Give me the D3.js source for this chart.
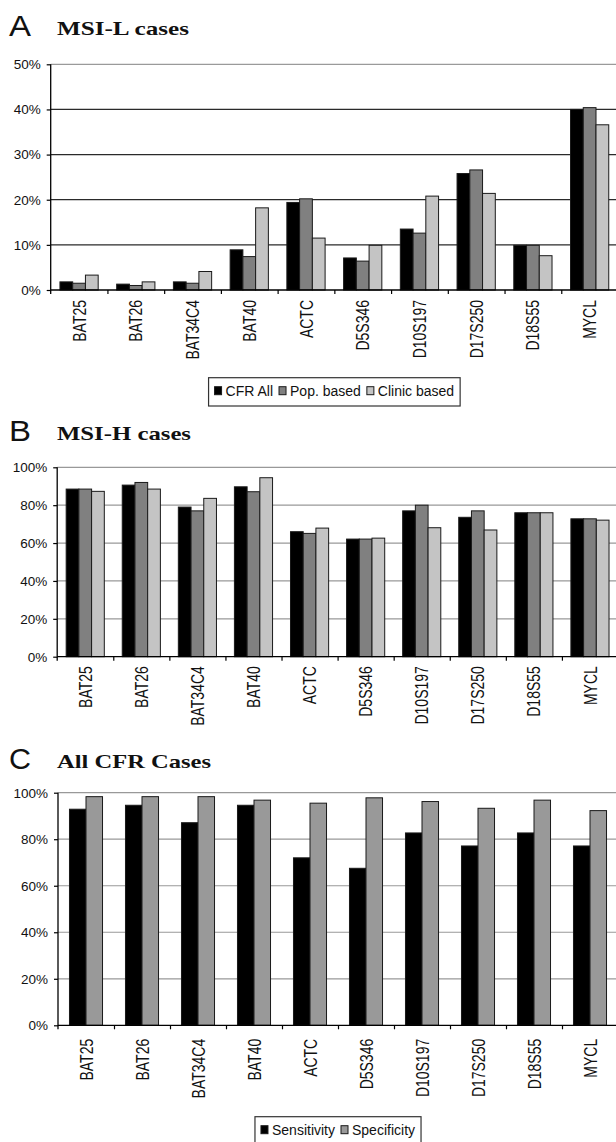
<!DOCTYPE html>
<html>
<head>
<meta charset="utf-8">
<script src="https://cdn.jsdelivr.net/npm/d3@7"></script>
<style>
body { margin: 0; background: #fff; }
svg text { font-family: "Liberation Sans", Arial, sans-serif; fill: #111; }
svg text.title { font-family: "Liberation Serif", "Times New Roman", serif; font-weight: bold; }
</style>
</head>
<body>
<svg id="chart" width="616" height="1142"></svg>
<script>
const markers = ["BAT25", "BAT26", "BAT34C4", "BAT40", "ACTC", "D5S346", "D10S197", "D17S250", "D18S55", "MYCL"];

// panel A - MSI-L cases (%)
const msiLAll = [1.8, 1.3, 1.8, 8.9, 19.4, 7.1, 13.5, 25.8, 9.9, 40.0];
const msiLPop = [1.5, 1.0, 1.5, 7.4, 20.2, 6.4, 12.6, 26.6, 9.9, 40.4];
const msiLClinic = [3.3, 1.8, 4.1, 18.2, 11.5, 9.9, 20.8, 21.4, 7.6, 36.6];

// panel B - MSI-H cases (%)
const msiHAll = [88.5, 90.6, 79.0, 89.7, 66.0, 62.1, 77.0, 73.6, 76.0, 72.8];
const msiHPop = [88.5, 92.0, 77.0, 87.1, 65.1, 62.1, 80.0, 77.0, 76.0, 72.8];
const msiHClinic = [87.3, 88.5, 83.6, 94.5, 67.9, 62.6, 68.1, 66.9, 76.0, 72.1];

// panel C - all CFR cases (%)
const sensitivity = [92.9, 94.6, 87.1, 94.6, 72.0, 67.5, 82.7, 77.1, 82.7, 77.1];
const specificity = [98.3, 98.3, 98.3, 96.8, 95.5, 97.8, 96.2, 93.3, 96.8, 92.3];

const ticksA = [0, 10, 20, 30, 40, 50];
const ticksBC = [0, 20, 40, 60, 80, 100];
const legendA = ["CFR All", "Pop. based", "Clinic based"];
const legendC = ["Sensitivity", "Specificity"];

const svg = d3.select("#chart");
const plotRight = 618;

function drawPanel(p) {
  const g = svg.append("g");

  // panel letter + title
  g.append("text")
    .attr("x", 9).attr("y", p.titleY)
    .attr("font-size", 29)
    .attr("textLength", 22).attr("lengthAdjust", "spacingAndGlyphs")
    .text(p.letter);
  g.append("text").attr("class", "title")
    .attr("x", 57).attr("y", p.titleY - 1)
    .attr("font-size", 19.5)
    .attr("textLength", p.titleW).attr("lengthAdjust", "spacingAndGlyphs")
    .text(p.title);

  const n = markers.length;
  const x = d3.scaleBand().domain(markers)
    .range([p.x0, plotRight])
    .paddingInner(p.pad).paddingOuter(p.pad / 2);
  const sub = d3.scaleBand().domain(d3.range(p.series.length)).range([0, x.bandwidth()]);
  const y = d3.scaleLinear().domain([0, p.max]).range([p.y0, p.yTop]);

  // gridlines
  g.selectAll(null).data(p.ticks.slice(1)).enter().append("line")
    .attr("x1", p.x0).attr("x2", 616)
    .attr("y1", d => y(d)).attr("y2", d => y(d))
    .attr("stroke", d => d === p.max ? p.topGrid : p.grid)
    .attr("stroke-width", 1.2);

  // bars
  p.series.forEach((vals, si) => {
    g.selectAll(null).data(vals).enter().append("rect")
      .attr("x", (d, i) => x(markers[i]) + sub(si))
      .attr("y", d => y(d))
      .attr("width", sub.bandwidth())
      .attr("height", d => p.y0 - y(d))
      .attr("fill", p.colors[si])
      .attr("stroke", "#1a1a1a").attr("stroke-width", 1);
  });

  // y axis
  const ya = g.append("g")
    .attr("transform", `translate(${p.x0},0)`)
    .call(d3.axisLeft(y).tickValues(p.ticks).tickFormat(d => d + "%").tickSize(4).tickPadding(6));
  ya.select(".domain").remove();
  ya.selectAll("text").attr("font-size", 13.5).attr("fill", "#111");
  ya.selectAll("line").attr("stroke-width", 1.2);
  g.append("line")
    .attr("x1", p.x0).attr("x2", p.x0)
    .attr("y1", p.yTop).attr("y2", p.y0 + 4)
    .attr("stroke", "#000").attr("stroke-width", 1.3);

  // x axis, ticks between categories
  const xs = d3.scaleLinear().domain([0, n]).range([p.x0, plotRight]);
  const xa = g.append("g")
    .attr("transform", `translate(0,${p.y0})`)
    .call(d3.axisBottom(xs).tickValues(d3.range(1, n)).tickFormat("").tickSize(4));
  xa.select(".domain").remove();
  xa.selectAll("line").attr("stroke-width", 1.2);
  g.append("line")
    .attr("x1", p.x0).attr("x2", 616)
    .attr("y1", p.y0).attr("y2", p.y0)
    .attr("stroke", "#000").attr("stroke-width", 1.3);

  // rotated category labels
  g.selectAll(null).data(markers).enter().append("text")
    .attr("transform", d => `translate(${x(d) + x.bandwidth() / 2},${p.y0 + p.labelOff}) rotate(-90) scale(1,1.3)`)
    .attr("text-anchor", "end")
    .attr("dy", "0.36em")
    .attr("font-size", 14)
    .text(d => d);

  // legend
  if (p.legend) {
    const lg = g.append("g");
    let cx = 0;
    p.legend.forEach((name, i) => {
      lg.append("rect")
        .attr("x", cx).attr("y", 9).attr("width", 7).attr("height", 8)
        .attr("fill", p.colors[i]).attr("stroke", "#1a1a1a").attr("stroke-width", 1);
      const t = lg.append("text")
        .attr("x", cx + 11).attr("y", 18)
        .attr("font-size", 14)
        .text(name);
      cx += 11 + t.node().getComputedTextLength() + 6;
    });
    const boxW = cx - 6 + 12;
    const boxX = (p.x0 + plotRight) / 2 - boxW / 2;
    g.insert("rect", () => lg.node())
      .attr("x", boxX).attr("y", p.legY)
      .attr("width", boxW).attr("height", 28.3)
      .attr("fill", "#fff").attr("stroke", "#333").attr("stroke-width", 1.2);
    lg.attr("transform", `translate(${boxX + 6},${p.legY})`);
  }
}

drawPanel({
  letter: "A", title: "MSI-L cases", titleY: 35.5, titleW: 132,
  x0: 50.7, y0: 290, yTop: 64.3, max: 50, ticks: ticksA, pad: 0.326,
  series: [msiLAll, msiLPop, msiLClinic],
  colors: ["#000000", "#808080", "#c4c4c4"],
  grid: "#2a2a2a", topGrid: "#9a9a9a", labelOff: 10,
  legend: legendA, legY: 377.7
});

drawPanel({
  letter: "B", title: "MSI-H cases", titleY: 440.5, titleW: 134,
  x0: 57.2, y0: 656.7, yTop: 467.3, max: 100, ticks: ticksBC, pad: 0.32,
  series: [msiHAll, msiHPop, msiHClinic],
  colors: ["#000000", "#808080", "#c4c4c4"],
  grid: "#999999", topGrid: "#999999", labelOff: 9.5
});

drawPanel({
  letter: "C", title: "All CFR Cases", titleY: 769, titleW: 154,
  x0: 58, y0: 1025.3, yTop: 792.7, max: 100, ticks: ticksBC, pad: 0.41,
  series: [sensitivity, specificity],
  colors: ["#000000", "#999999"],
  grid: "#999999", topGrid: "#999999", labelOff: 13.5,
  legend: legendC, legY: 1116.7
});
</script>
</body>
</html>
